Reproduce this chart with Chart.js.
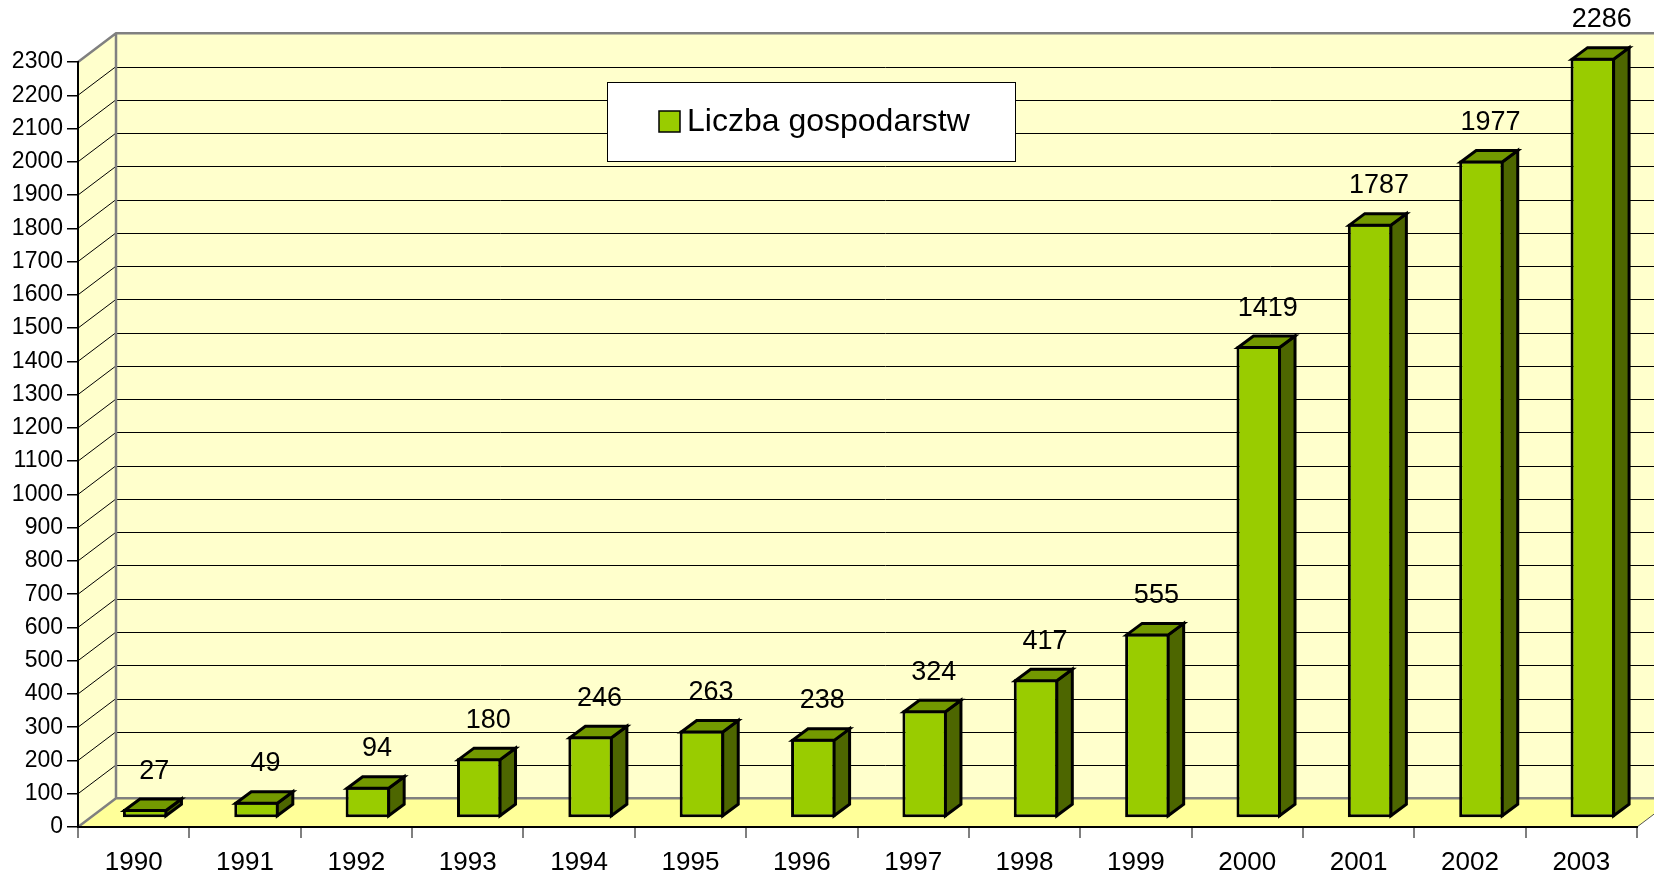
<!DOCTYPE html>
<html><head><meta charset="utf-8">
<script src="https://cdn.jsdelivr.net/npm/chart.js@4.4.0/dist/chart.umd.min.js"></script>
<style>html,body{margin:0;padding:0;background:#fff;}canvas{display:block}</style>
</head><body>
<canvas id="c" width="1654" height="875"></canvas>
<script>
// ---- data ----
const years = ['1990','1991','1992','1993','1994','1995','1996','1997','1998','1999','2000','2001','2002','2003'];
const farms = [27, 49, 94, 180, 246, 263, 238, 324, 417, 555, 1419, 1787, 1977, 2286];
const seriesLabel = 'Liczba gospodarstw';
const yMin = 0, yMax = 2300, yStep = 100;

// ---- style / 3D geometry ----
const FONT = '"Liberation Sans", Arial, sans-serif';
const WALL_DX = 38, WALL_DY = -28.7;
const BAR_DX = 11.5, BAR_DY = -9;
const DEPTH_X = 15.5, DEPTH_Y = -11.5;
const BW = 3;

const scene3d = {
  id: 'scene3d',
  beforeDraw(chart) {
    const {ctx, chartArea: a, scales: {y}} = chart;
    const L = a.left, R = a.right, T = a.top, B = a.bottom;
    ctx.save();
    ctx.fillStyle = '#ffffcc';
    ctx.fillRect(L + WALL_DX, T + WALL_DY, R - L, B - T);
    ctx.beginPath();
    ctx.moveTo(L, B); ctx.lineTo(L, T); ctx.lineTo(L + WALL_DX, T + WALL_DY); ctx.lineTo(L + WALL_DX, B + WALL_DY);
    ctx.closePath(); ctx.fill();
    ctx.fillStyle = '#ffff99';
    ctx.beginPath();
    ctx.moveTo(L, B); ctx.lineTo(R, B); ctx.lineTo(R + WALL_DX, B + WALL_DY); ctx.lineTo(L + WALL_DX, B + WALL_DY);
    ctx.closePath(); ctx.fill();
    // gridlines on walls
    ctx.strokeStyle = '#000'; ctx.lineWidth = 1;
    y.ticks.forEach(t => {
      if (t.value <= yMin || t.value >= yMax) return;
      const py = y.getPixelForValue(t.value);
      const pb = Math.round(py + WALL_DY) + 0.5;
      ctx.beginPath();
      ctx.moveTo(L + WALL_DX, pb); ctx.lineTo(R + WALL_DX, pb);
      ctx.stroke();
      ctx.beginPath();
      ctx.moveTo(L, py); ctx.lineTo(L + WALL_DX, py + WALL_DY);
      ctx.stroke();
    });
    // floor right edge
    ctx.strokeStyle = '#555'; ctx.lineWidth = 1;
    ctx.beginPath(); ctx.moveTo(R, B); ctx.lineTo(R + WALL_DX, B + WALL_DY); ctx.stroke();
    // wall borders
    ctx.strokeStyle = '#808080'; ctx.lineWidth = 2.5;
    ctx.beginPath();
    ctx.moveTo(L, T); ctx.lineTo(L + WALL_DX, T + WALL_DY); ctx.lineTo(R + WALL_DX, T + WALL_DY);
    ctx.moveTo(L + WALL_DX, T + WALL_DY); ctx.lineTo(L + WALL_DX, B + WALL_DY); ctx.lineTo(R + WALL_DX, B + WALL_DY);
    ctx.moveTo(L, B); ctx.lineTo(L + WALL_DX, B + WALL_DY);
    ctx.stroke();
    ctx.restore();
  },
  beforeDatasetDraw(chart) {
    chart.ctx.save();
    chart.ctx.translate(BAR_DX, BAR_DY);
  },
  afterDatasetDraw(chart, args) {
    const ctx = chart.ctx;
    ctx.lineWidth = BW; ctx.strokeStyle = '#000'; ctx.lineJoin = 'miter';
    args.meta.data.forEach(bar => {
      const p = bar.getProps(['x', 'y', 'base', 'width'], true);
      const h = BW / 2;
      const l = p.x - p.width / 2 + h, r = p.x + p.width / 2 - h;
      const t = p.y + h, b = p.base - h;
      // side face
      ctx.fillStyle = '#4d6600';
      ctx.beginPath();
      ctx.moveTo(r, t); ctx.lineTo(r + DEPTH_X, t + DEPTH_Y); ctx.lineTo(r + DEPTH_X, b + DEPTH_Y); ctx.lineTo(r, b);
      ctx.closePath(); ctx.fill(); ctx.stroke();
      // top face
      ctx.fillStyle = '#739900';
      ctx.beginPath();
      ctx.moveTo(l, t); ctx.lineTo(r, t); ctx.lineTo(r + DEPTH_X, t + DEPTH_Y); ctx.lineTo(l + DEPTH_X, t + DEPTH_Y);
      ctx.closePath(); ctx.fill(); ctx.stroke();
    });
    ctx.restore();
  },
  afterDraw(chart) {
    const ctx = chart.ctx;
    const meta = chart.getDatasetMeta(0);
    ctx.save();
    ctx.fillStyle = '#000';
    ctx.font = '27px ' + FONT;
    ctx.textAlign = 'center';
    ctx.textBaseline = 'alphabetic';
    meta.data.forEach((bar, i) => {
      const p = bar.getProps(['x', 'y'], true);
      ctx.fillText(String(farms[i]), p.x + BAR_DX + 9, p.y + BAR_DY + DEPTH_Y - 19);
    });
    // legend
    const a = chart.chartArea;
    const bx = a.left + 529, by = a.top + 20, bwid = 408, bh = 79;
    ctx.fillStyle = '#fff';
    ctx.fillRect(bx, by, bwid, bh);
    ctx.strokeStyle = '#000'; ctx.lineWidth = 1;
    ctx.strokeRect(bx + 0.5, by + 0.5, bwid, bh);
    ctx.fillStyle = chart.data.datasets[0].backgroundColor;
    ctx.fillRect(bx + 52, by + 29, 21, 21);
    ctx.lineWidth = 1.5;
    ctx.strokeRect(bx + 52, by + 29, 21, 21);
    ctx.fillStyle = '#000';
    ctx.font = '32px ' + FONT;
    ctx.textAlign = 'left';
    ctx.textBaseline = 'middle';
    ctx.fillText(chart.data.datasets[0].label, bx + 80, by + 40);
    ctx.restore();
  }
};

new Chart(document.getElementById('c'), {
  type: 'bar',
  data: {
    labels: years,
    datasets: [{
      label: seriesLabel,
      data: farms,
      backgroundColor: '#99cc00',
      borderColor: '#000',
      borderWidth: BW,
      borderSkipped: false,
      barPercentage: 0.4,
      categoryPercentage: 1,
      clip: false
    }]
  },
  options: {
    responsive: false,
    devicePixelRatio: 1,
    animation: false,
    layout: { padding: { top: 62, right: 17, left: 0, bottom: 0 } },
    plugins: { legend: { display: false }, tooltip: { enabled: false } },
    scales: {
      x: {
        offset: true,
        grid: { display: true, offset: true, drawOnChartArea: false, drawTicks: true, tickLength: 11, color: '#808080', lineWidth: 2 },
        border: { display: true, color: '#000', width: 2 },
        ticks: { font: { size: 26, family: FONT }, color: '#000', padding: 9, maxRotation: 0, autoSkip: false },
        afterFit(s) { s.height = 48; }
      },
      y: {
        min: yMin, max: yMax,
        grid: { drawOnChartArea: false, drawTicks: true, tickLength: 11, color: '#000', lineWidth: 1.5 },
        border: { display: true, color: '#000', width: 2 },
        ticks: { stepSize: yStep, font: { size: 23, family: FONT }, color: '#000', padding: 4, autoSkip: false,
                 callback: v => String(v) },
        afterFit(s) { s.width = 78; }
      }
    }
  },
  plugins: [scene3d]
});
</script>
</body></html>
